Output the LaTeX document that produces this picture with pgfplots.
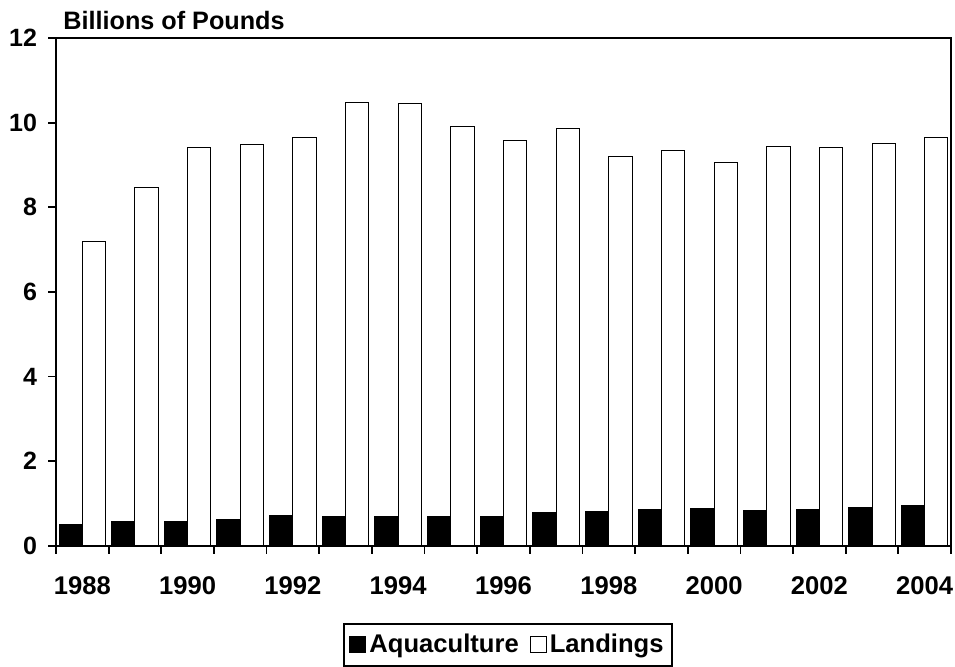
\documentclass[border=0pt]{standalone}
\usepackage{fontspec}
\setmainfont{Liberation Sans}
\usepackage{pgfplots}
\pgfplotsset{compat=1.18}
\begin{document}
\begin{tikzpicture}
\useasboundingbox (-28pt,-60.65pt) rectangle (449.5pt,272.85pt);
\begin{axis}[
  at={(0,0)}, anchor=south west,
  scale only axis, width=447.5pt, height=253.85pt,
  ybar=0pt, bar width=11.65pt,
  xmin=1987.5, xmax=2004.5, ymin=0, ymax=12,
  xtick={1988,1990,1992,1994,1996,1998,2000,2002,2004},
  xticklabels={1988,1990,1992,1994,1996,1998,2000,2002,2004},
  minor xtick={1987.5,1988.5,1989.5,1990.5,1991.5,1992.5,1993.5,1994.5,1995.5,1996.5,1997.5,1998.5,1999.5,2000.5,2001.5,2002.5,2003.5,2004.5},
  ytick={0,2,4,6,8,10,12},
  tick align=outside, tick pos=left,
  major tick length=4pt, minor tick length=4pt,
  major x tick style={draw=none},
  minor x tick style={black, line width=0.9pt},
  ytick style={black, line width=0.9pt},
  axis line style={line width=0.9pt},
  /pgf/number format/assume math mode=true,
  x tick label style={font=\bfseries\fontsize{12.8}{14}\selectfont, yshift=-8pt},
  y tick label style={font=\bfseries\fontsize{12.5}{14}\selectfont, xshift=-2pt},
  legend columns=-1,
  legend style={at={(0.505,-0.1956)}, anchor=center, draw=black, line width=1pt,
    font=\bfseries\fontsize{12.8}{14}\selectfont,
    nodes={inner xsep=1.5pt, inner ysep=3.5pt},
    /tikz/every even column/.append style={column sep=4pt},
    inner xsep=2.5pt, inner ysep=1.5pt},
  legend image code/.code={\draw[#1, line width=0.5pt] (0pt,-4pt) rectangle (8pt,4pt);},
]
\addplot[fill=black, draw=black, line width=0.5pt] coordinates {
(1988,0.51) (1989,0.56) (1990,0.58) (1991,0.62) (1992,0.71) (1993,0.69)
(1994,0.68) (1995,0.70) (1996,0.70) (1997,0.79) (1998,0.80) (1999,0.86)
(2000,0.87) (2001,0.84) (2002,0.86) (2003,0.91) (2004,0.94)};
\addplot[fill=white, draw=black, line width=0.5pt] coordinates {
(1988,7.19) (1989,8.46) (1990,9.40) (1991,9.48) (1992,9.65) (1993,10.47)
(1994,10.46) (1995,9.91) (1996,9.57) (1997,9.85) (1998,9.20) (1999,9.33)
(2000,9.06) (2001,9.43) (2002,9.40) (2003,9.50) (2004,9.65)};
\legend{Aquaculture,Landings}
\end{axis}
\node[anchor=base west, inner sep=0pt, font=\bfseries\fontsize{12.6}{14}\selectfont] at (3.5pt,258.2pt) {Billions of Pounds};
\end{tikzpicture}
\end{document}
